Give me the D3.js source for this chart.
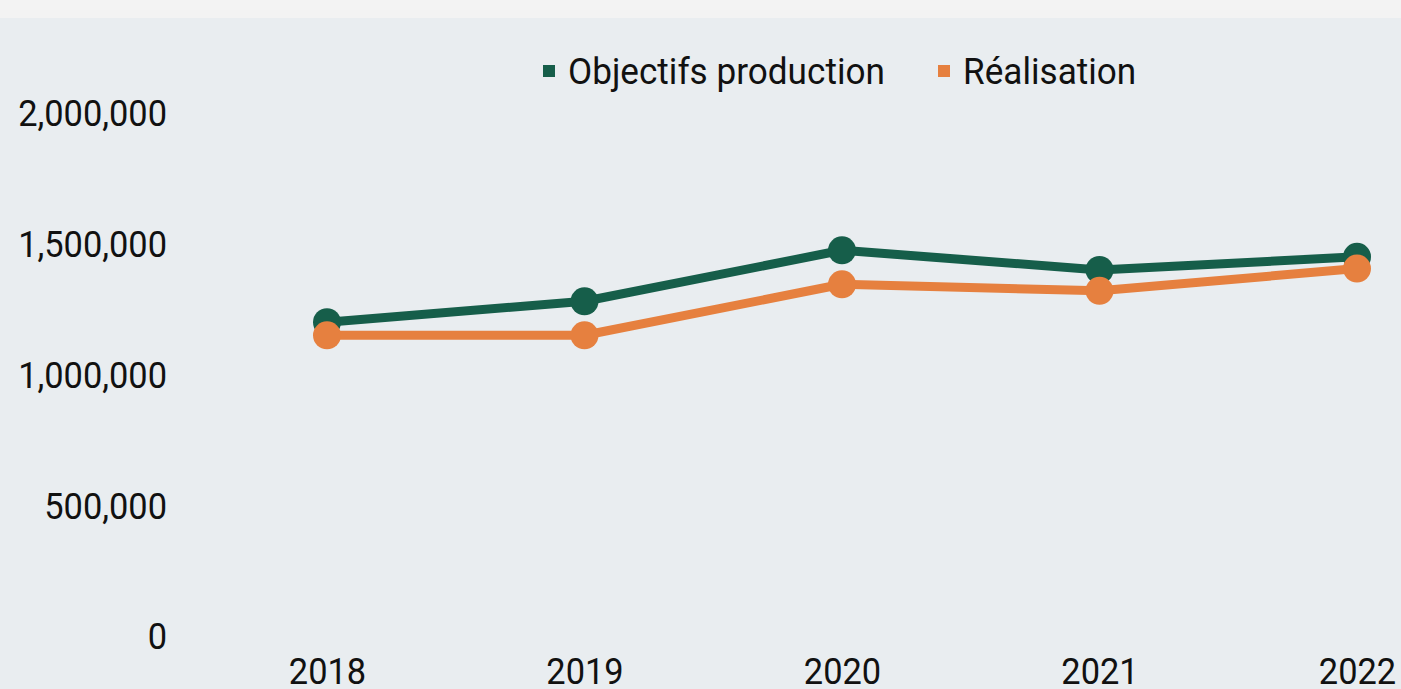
<!DOCTYPE html>
<html>
<head>
<meta charset="utf-8">
<script src="https://cdn.jsdelivr.net/npm/d3@7"></script>
<style>
  html, body { margin: 0; padding: 0; background: #e9edf0; overflow: hidden; }
  text { font-family: "Roboto", "Liberation Sans", sans-serif; font-weight: 400; fill: #111; }
</style>
</head>
<body>
<div id="chart"></div>
<script>
  var years = ["2018", "2019", "2020", "2021", "2022"];
  var objectifs = [1200000, 1280000, 1475000, 1400000, 1450000];
  var realisation = [1150000, 1150000, 1345000, 1320000, 1405000];
  var yTicks = [0, 500000, 1000000, 1500000, 2000000];
  var seriesNames = ["Objectifs production", "Réalisation"];
  var seriesColors = ["#165e4a", "#e6803f"];

  var svgWidth = 1401;
  var svgHeight = 689;
  var squeeze = "scale(0.93,1)"; // police condensée

  var svg = d3.select("#chart")
    .append("svg")
    .attr("width", svgWidth)
    .attr("height", svgHeight);

  // fond
  svg.append("rect")
    .attr("width", svgWidth)
    .attr("height", svgHeight)
    .attr("fill", "#e9edf0");
  svg.append("rect")
    .attr("width", svgWidth)
    .attr("height", 18)
    .attr("fill", "#f3f3f3");

  var x = d3.scalePoint()
    .domain(years)
    .range([327, 1357]);

  var y = d3.scaleLinear()
    .domain([0, 2000000])
    .range([636, 113]);

  var fmt = d3.format(",");

  // axe y
  var yAxis = svg.append("g")
    .attr("transform", "translate(167,0)")
    .call(d3.axisLeft(y).tickValues(yTicks).tickFormat(fmt).tickSize(0).tickPadding(0));
  yAxis.select(".domain").remove();
  yAxis.selectAll("text")
    .attr("font-size", 37)
    .attr("font-family", null)
    .attr("fill", null)
    .attr("dy", "0.35em")
    .attr("transform", squeeze);

  // axe x
  var xAxis = svg.append("g")
    .attr("transform", "translate(0,671)")
    .call(d3.axisBottom(x).tickSize(0).tickPadding(0));
  xAxis.select(".domain").remove();
  xAxis.selectAll("text")
    .attr("font-size", 37)
    .attr("font-family", null)
    .attr("fill", null)
    .attr("dy", "0.35em")
    .attr("transform", squeeze);

  var line = d3.line()
    .x(function(d, i) { return x(years[i]); })
    .y(function(d) { return y(d); });

  var allSeries = [objectifs, realisation];

  allSeries.forEach(function(values, k) {
    svg.append("path")
      .datum(values)
      .attr("d", line)
      .attr("fill", "none")
      .attr("stroke", seriesColors[k])
      .attr("stroke-width", 9)
      .attr("stroke-linejoin", "round");

    svg.selectAll(".pt" + k)
      .data(values)
      .enter()
      .append("circle")
      .attr("class", "pt" + k)
      .attr("cx", function(d, i) { return x(years[i]); })
      .attr("cy", function(d) { return y(d); })
      .attr("r", 14)
      .attr("fill", seriesColors[k]);
  });

  // légende
  var legendX = [543, 938];
  var legend = svg.selectAll(".legend")
    .data(seriesNames)
    .enter()
    .append("g")
    .attr("class", "legend")
    .attr("transform", function(d, i) { return "translate(" + legendX[i] + ",71)"; });

  legend.append("rect")
    .attr("x", 0)
    .attr("y", -6)
    .attr("width", 12)
    .attr("height", 12)
    .attr("fill", function(d, i) { return seriesColors[i]; });

  legend.append("text")
    .attr("transform", "translate(25,0) scale(0.95,1)")
    .attr("dy", "0.35em")
    .attr("font-size", 37)
    .text(function(d) { return d; });
</script>
</body>
</html>
